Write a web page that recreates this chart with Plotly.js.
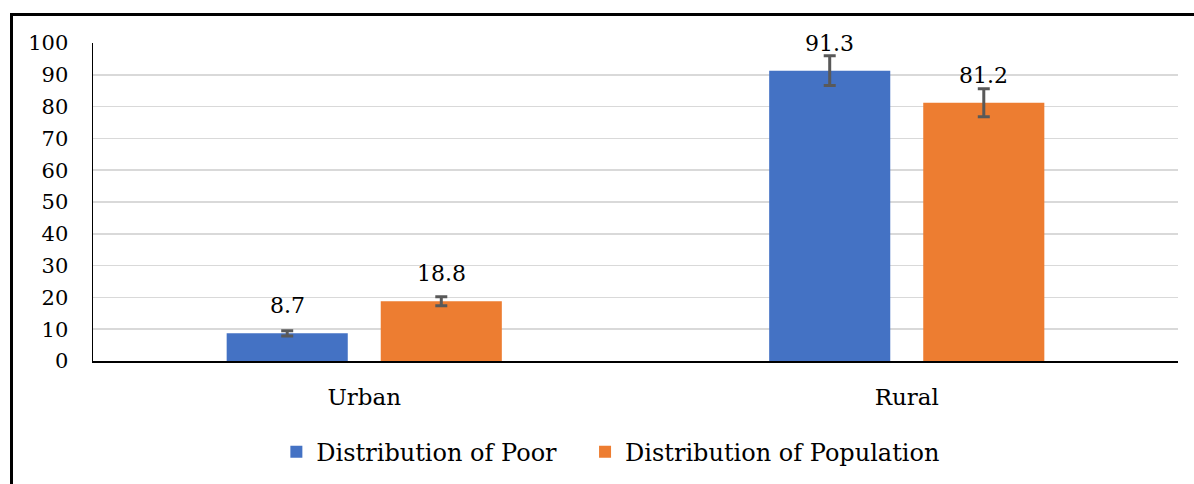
<!DOCTYPE html>
<html>
<head>
<meta charset="utf-8">
<script src="https://cdn.plot.ly/plotly-3.0.1.min.js"></script>
<style>
  html, body { margin: 0; padding: 0; background: #fff; }
  #wrap { position: relative; width: 1194px; height: 484px; overflow: hidden; }
  #frame { position: absolute; left: 10px; top: 13px; width: 1200px; height: 500px;
           border-left: 3px solid #000; border-top: 3px solid #000; pointer-events: none; z-index: 5; }
  #chart { position: absolute; left: 0; top: 0; width: 1194px; height: 484px; }
</style>
</head>
<body>
<div id="wrap">
  <div id="chart"></div>
  <div id="frame"></div>
</div>
<script>
const categories = ["Urban", "Rural"];
const poorValues = [8.7, 91.3];
const poorErrors = [0.8, 4.7];
const popValues = [18.8, 81.2];
const popErrors = [1.4, 4.4];
const seriesNames = ["Distribution of Poor", "Distribution of Population"];
const yTicks = [0, 10, 20, 30, 40, 50, 60, 70, 80, 90, 100];

const FONT = "DejaVu Serif";
const W = 1194, H = 484;
const margin = { l: 93, r: 16, t: 43, b: 123, pad: 0, autoexpand: false };
const bargap = 0.432;
const plotW = W - margin.l - margin.r;
const slot = (plotW / categories.length) * (1 - bargap) / 2;

const errStyle = { color: "#595959", thickness: 3, width: 6 };

const traces = [
  {
    type: "bar", name: seriesNames[0], x: categories, y: poorValues,
    marker: { color: "#4472C4" }, legend: "legend",
    error_y: Object.assign({ type: "data", array: poorErrors, visible: true }, errStyle),
    hoverinfo: "none"
  },
  {
    type: "bar", name: seriesNames[1], x: categories, y: popValues,
    marker: { color: "#ED7D31" }, legend: "legend2",
    error_y: Object.assign({ type: "data", array: popErrors, visible: true }, errStyle),
    hoverinfo: "none"
  }
];

const annotations = [];
[poorValues, popValues].forEach((vals, si) => {
  vals.forEach((v, ci) => {
    annotations.push({
      x: categories[ci], y: v, xref: "x", yref: "y",
      text: String(v), showarrow: false,
      xanchor: "center", yanchor: "middle",
      xshift: (si === 0 ? -1 : 1) * slot / 2, yshift: 27.5,
      font: { family: FONT, size: 22, color: "#000" }
    });
  });
});

const legendBase = {
  orientation: "h", xanchor: "left", y: -0.287, yanchor: "middle",
  font: { family: FONT, size: 24, color: "#000" }, itemwidth: 30,
  bgcolor: "rgba(0,0,0,0)"
};

const layout = {
  width: W, height: H,
  margin: margin,
  font: { family: FONT },
  paper_bgcolor: "#fff", plot_bgcolor: "#fff",
  barmode: "group", bargap: bargap, bargroupgap: 0.214,
  showlegend: true,
  legend: Object.assign({}, legendBase, { x: 0.169 }),
  legend2: Object.assign({}, legendBase, { x: 0.4535 }),
  xaxis: {
    type: "category", showgrid: false, showline: true, linecolor: "#000", linewidth: 1.5,
    ticks: "", ticklabelstandoff: 15, automargin: false,
    tickfont: { family: FONT, size: 23, color: "#000" }, fixedrange: true
  },
  yaxis: {
    range: [0, 100], tickvals: yTicks, ticktext: yTicks.map(String),
    showgrid: true, gridcolor: "#d9d9d9", gridwidth: 1.5,
    showline: true, linecolor: "#000", linewidth: 1.5, zeroline: false,
    ticks: "", ticklabelstandoff: 19, automargin: false,
    tickfont: { family: FONT, size: 21, color: "#000" }, fixedrange: true
  },
  annotations: annotations
};

Plotly.newPlot("chart", traces, layout, { displayModeBar: false, staticPlot: true });
</script>
</body>
</html>
